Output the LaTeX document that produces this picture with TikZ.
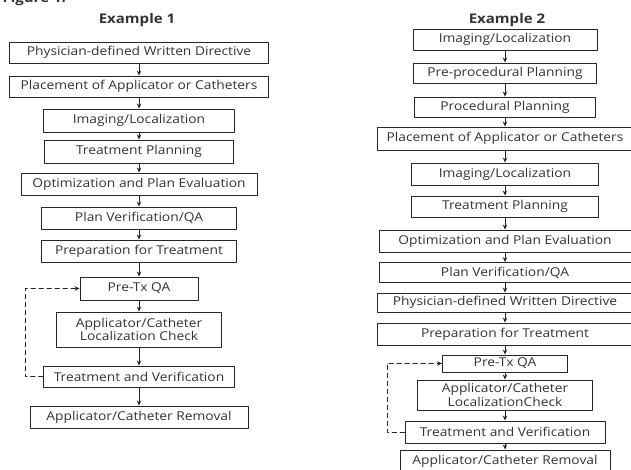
\documentclass[tikz,border=0pt]{standalone}
\usepackage{fontspec}
\setmainfont{Open Sans}[FakeStretch=1.13]
\usetikzlibrary{arrows.meta}

\begin{document}
\begin{tikzpicture}[x=1pt, y=-1pt, line cap=round, line join=round,
    stage/.style={draw=black!85, line width=0.9pt, inner sep=0pt,
      minimum height=21pt, align=center,
      font=\fontsize{12.2}{11.7}\selectfont, text=black!80},
    flow/.style={line width=0.9pt, draw=black!85,
      -{Stealth[length=5pt,width=4.5pt]}},
    retry/.style={flow, dash pattern=on 4.5pt off 3.5pt},
    ttl/.style={font=\bfseries\fontsize{13.3}{14}\selectfont, text=black!80}]
  \useasboundingbox (0,0) rectangle (631,470);
  \node[ttl, anchor=base west] (fig) at (-1,3) {Figure 1.};
  % Example 1
  \begin{scope}
    \node[ttl] (t1) at (137,20) {Example 1};
    \node[stage, minimum width=259pt] (l1) at (139,52.5) {Physician-defined Written Directive};
    \node[stage, minimum width=259pt] (l2) at (139,86.5) {Placement of Applicator or Catheters};
    \node[stage, minimum width=191pt, minimum height=23pt] (l3) at (139,120.5) {Imaging/Localization};
    \node[stage, minimum width=189pt, minimum height=23pt] (l4) at (139,151.5) {Treatment Planning};
    \node[stage, minimum width=236pt, minimum height=22pt] (l5) at (139,184) {Optimization and Plan Evaluation};
    \node[stage, minimum width=195pt, minimum height=22pt] (l6) at (139,218) {Plan Verification/QA};
    \node[stage, minimum width=195pt, minimum height=22pt] (l7) at (139,251) {Preparation for Treatment};
    \node[stage, minimum width=118pt, minimum height=23pt] (l8) at (139,288.5) {Pre-Tx QA};
    \node[stage, minimum width=165pt, minimum height=35pt] (l9) at (139,329.5) {Applicator/Catheter\\Localization Check};
    \node[stage, minimum width=191pt] (l10) at (139,376.5) {Treatment and Verification};
    \node[stage, minimum width=218pt, minimum height=22pt] (l11) at (139,417) {Applicator/Catheter Removal};
    \draw[flow] (l1) -- (l2);
    \draw[flow] (l2) -- (l3);
    \draw[flow] (l3) -- (l4);
    \draw[flow] (l4) -- (l5);
    \draw[flow] (l5) -- (l6);
    \draw[flow] (l6) -- (l7);
    \draw[flow] (l7) -- (l8);
    \draw[flow] (l8) -- (l9);
    \draw[flow] (l9) -- (l10);
    \draw[flow] (l10) -- (l11);
    \coordinate (lc) at (25,0);
    \draw[retry] (l10.west) -- (l10.west -| lc) |- (l8.west);
  \end{scope}
  % Example 2
  \begin{scope}
    \node[ttl] (t2) at (507,20) {Example 2};
    \node[stage, minimum width=184pt] (r1) at (505,39.5) {Imaging/Localization};
    \node[stage, minimum width=183pt, minimum height=20pt] (r2) at (505,73) {Pre-procedural Planning};
    \node[stage, minimum width=181pt, minimum height=20pt] (r3) at (505,107) {Procedural Planning};
    \node[stage, minimum width=256pt, minimum height=23pt] (r4) at (505,138.5) {Placement of Applicator or Catheters};
    \node[stage, minimum width=187pt, minimum height=22pt] (r5) at (505,174) {Imaging/Localization};
    \node[stage, minimum width=187pt] (r6) at (505,206.5) {Treatment Planning};
    \node[stage, minimum width=252pt, minimum height=22pt] (r7) at (505,241) {Optimization and Plan Evaluation};
    \node[stage, minimum width=252pt, minimum height=20pt] (r8) at (505,272.5) {Plan Verification/QA};
    \node[stage, minimum width=256pt, minimum height=19pt] (r9) at (505,302.5) {Physician-defined Written Directive};
    \node[stage, minimum width=256pt, minimum height=22pt] (r10) at (505,334) {Preparation for Treatment};
    \node[stage, minimum width=125pt, minimum height=17pt] (r11) at (505,363.5) {Pre-Tx QA};
    \node[stage, minimum width=175pt, minimum height=30pt] (r12) at (505,395) {Applicator/Catheter\\LocalizationCheck};
    \node[stage, minimum width=200pt, minimum height=22pt] (r13) at (505,432) {Treatment and Verification};
    \node[stage, minimum width=210pt, minimum height=22pt] (r14) at (505,461) {Applicator/Catheter Removal};
    \draw[flow] (r1) -- (r2);
    \draw[flow] (r2) -- (r3);
    \draw[flow] (r3) -- (r4);
    \draw[flow] (r4) -- (r5);
    \draw[flow] (r5) -- (r6);
    \draw[flow] (r6) -- (r7);
    \draw[flow] (r7) -- (r8);
    \draw[flow] (r8) -- (r9);
    \draw[flow] (r9) -- (r10);
    \draw[flow] (r10) -- (r11);
    \draw[flow] (r11) -- (r12);
    \draw[flow] (r12) -- (r13);
    \draw[flow] (r13) -- (r14);
    \coordinate (rc) at (387,0);
    \draw[retry] (r13.west) -- (r13.west -| rc) |- (r11.west);
  \end{scope}
\end{tikzpicture}
\end{document}
